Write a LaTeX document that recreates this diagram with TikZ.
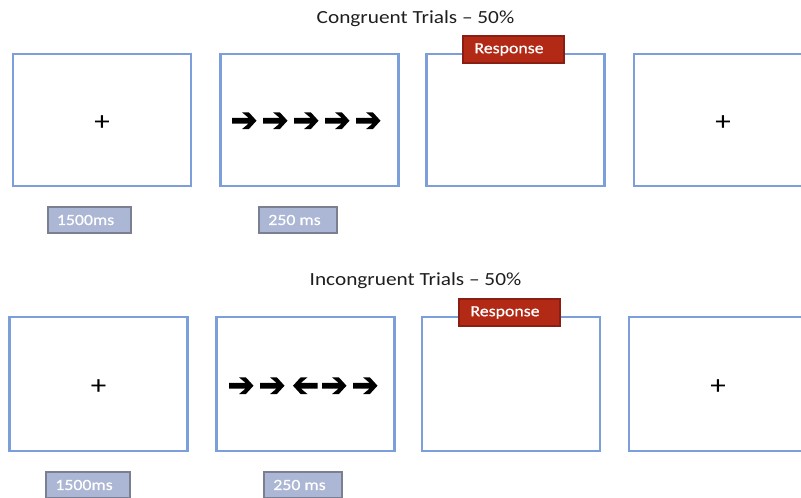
\documentclass[tikz,border=0pt]{standalone}
\usepackage{fontspec}
\setmainfont{Carlito}[FakeStretch=1.15]
\newfontfamily\labelfont{Carlito}[FakeStretch=1.15, FakeBold=0.5]
\definecolor{screenblue}{RGB}{124,158,219}
\definecolor{respfill}{RGB}{178,42,22}
\definecolor{respdraw}{RGB}{138,30,18}
\definecolor{timefill}{RGB}{172,183,213}
\definecolor{timedraw}{RGB}{122,128,146}
\definecolor{titlegray}{RGB}{30,30,30}
\tikzset{
  screen/.style={draw=screenblue, line width=2.4pt, fill=white, minimum width=178pt, minimum height=132pt, inner sep=0pt},
  resp/.style={draw=respdraw, line width=1.6pt, fill=respfill, minimum width=101pt, minimum height=27pt, inner sep=0pt},
  resptext/.style={text=white, font=\labelfont\fontsize{15.5}{17}\selectfont, inner sep=0pt},
  timebox/.style={draw=timedraw, line width=1.8pt, fill=timefill, minimum height=26pt, inner sep=0pt},
  timetext/.style={text=white, font=\labelfont\fontsize{15.5}{17}\selectfont, inner sep=0pt},
  title/.style={text=titlegray, font=\fontsize{18.5}{20}\selectfont, inner sep=0pt},
  fixation/.style={text=black, font=\fontsize{27}{28}\selectfont, inner sep=0pt},
  rarrow/.pic={\fill[black] (0,-2.9) -- (16.5,-2.9) -- (10,-8.4) -- (16.8,-8.4) -- (24.5,0) -- (16.8,8.4) -- (10,8.4) -- (16.5,2.9) -- (0,2.9) -- cycle;}
}
\begin{document}
\begin{tikzpicture}[x=1pt,y=-1pt]
\clip (0,0) rectangle (801,498);
\fill[white] (0,0) rectangle (801,498);

% ---- Congruent row ----
\node[title] (t1) at (415.5,19) {Congruent Trials – 50\%};
\node[screen] (c1) at (102,120) {};
\node[screen] (c2) at (309.5,120) {};
\node[screen] (c3) at (515.5,120) {};
\node[screen] (c4) at (723,120) {};
\node[fixation] (c1p) at ([yshift=-3pt]c1.center) {+};
\node[fixation] (c4p) at ([yshift=-3pt]c4.center) {+};
\foreach \x in {232,263,294,325,356} \pic at (\x,120.7) {rarrow};
\node[resp] (cr) at (513.5,49.5) {};
\node[resptext] (crt) at (509,49.5) {Response};
\node[timebox, minimum width=83pt] (ct1) at (89.5,220) {};
\node[timetext] (ct1t) at (85.5,220) {1500ms};
\node[timebox, minimum width=78pt] (ct2) at (298,220) {};
\node[timetext] (ct2t) at (294.5,220) {250 ms};

% ---- Incongruent row ----
\node[title] (t2) at (415.5,281) {Incongruent Trials – 50\%};
\node[screen, minimum height=134pt] (i1) at (98.5,384) {};
\node[screen, minimum height=134pt] (i2) at (305.5,384) {};
\node[screen, minimum height=134pt] (i3) at (511,384) {};
\node[screen, minimum height=134pt] (i4) at (718,384) {};
\node[fixation] (i1p) at ([yshift=-3pt]i1.center) {+};
\node[fixation] (i4p) at ([yshift=-3pt]i4.center) {+};
\pic at (229,385.7) {rarrow};
\pic at (260,385.7) {rarrow};
\pic[xscale=-1] at (317.5,385.7) {rarrow};
\pic at (322,385.7) {rarrow};
\pic at (353,385.7) {rarrow};
\node[resp] (ir) at (509.5,312.5) {};
\node[resptext] (irt) at (505,312.5) {Response};
\node[timebox, minimum width=84pt] (it1) at (88,485) {};
\node[timetext] (it1t) at (84,485) {1500ms};
\node[timebox, minimum width=78pt] (it2) at (303,485) {};
\node[timetext] (it2t) at (299.5,485) {250 ms};
\end{tikzpicture}
\end{document}
